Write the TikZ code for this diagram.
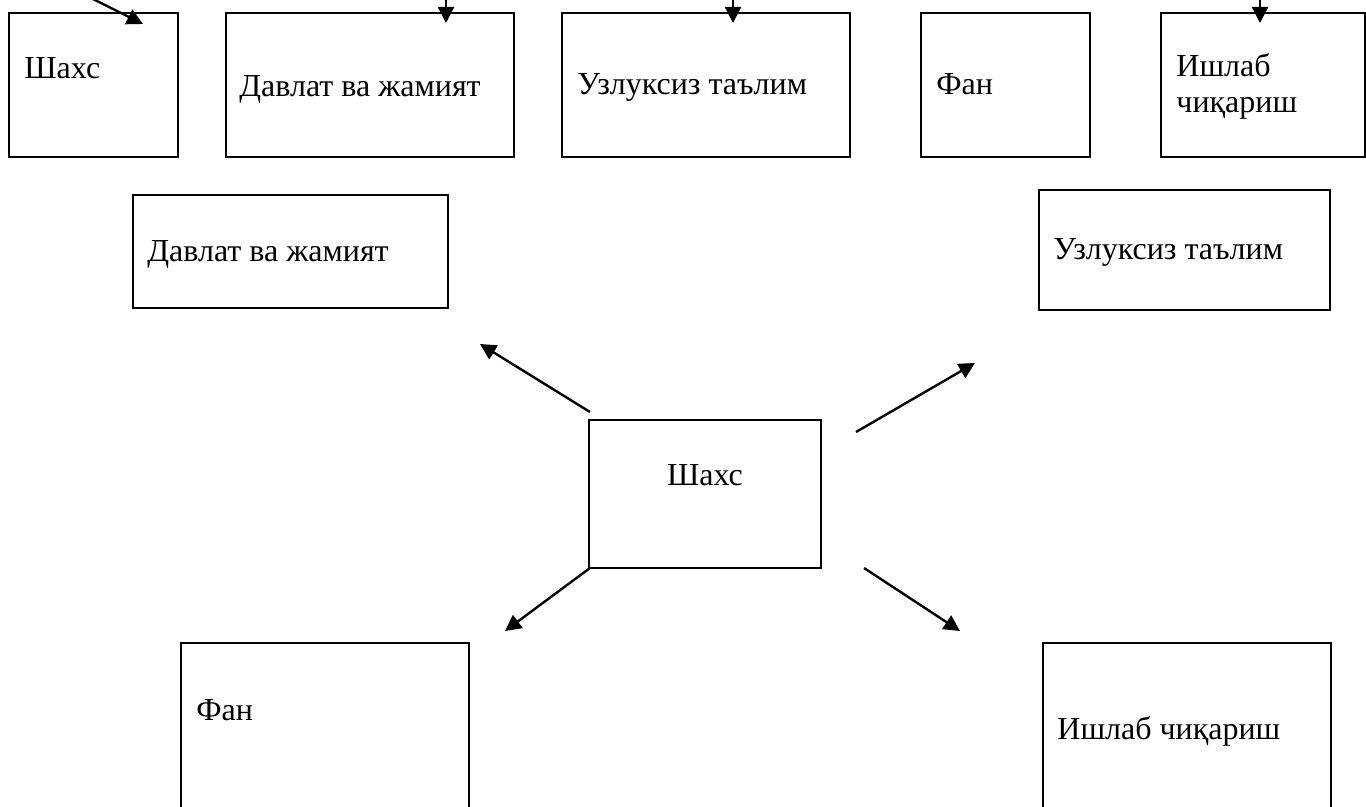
\documentclass[tikz,border=0pt]{standalone}
\usepackage{fontspec}
\setmainfont{Liberation Serif}
\usetikzlibrary{arrows.meta}
\tikzset{
  box/.style={draw, line width=1.1pt, inner sep=0pt},
  txt/.style={anchor=base west, inner sep=0pt, align=left, font=\fontsize{16}{18}\selectfont},
  arr/.style={-{Triangle[length=8pt,width=8pt]}, line width=1.2pt}
}
\begin{document}
\begin{tikzpicture}[x=0.5pt,y=-0.5pt]
  \clip (0,0) rectangle (1366,807);
  % top row
  \node[box, minimum width=84.5pt, minimum height=72pt] (t_shaxs)   at (93.5,85)  {};
  \node[box, minimum width=144pt,  minimum height=72pt] (t_davlat)  at (370,85)   {};
  \node[box, minimum width=144pt,  minimum height=72pt] (t_talim)   at (706,85)   {};
  \node[box, minimum width=84.5pt, minimum height=72pt] (t_fan)     at (1005.5,85) {};
  \node[box, minimum width=102pt,  minimum height=72pt] (t_ishlab)  at (1263,85)  {};
  \node[txt] (l_t_shaxs)  at (24,79)   {Шахс};
  \node[txt] (l_t_davlat) at (239,97)  {Давлат ва жамият};
  \node[txt] (l_t_talim)  at (577,95)  {Узлуксиз таълим};
  \node[txt] (l_t_fan)    at (936,95)  {Фан};
  \node[txt] (l_t_ishlab) at (1176,113) {Ишлаб\\чиқариш};
  % scheme
  \node[box, minimum width=157.5pt, minimum height=56.5pt] (davlat) at (290.5,251.5) {};
  \node[box, minimum width=145.5pt, minimum height=60pt]   (talim)  at (1184.5,250)  {};
  \node[box, minimum width=116pt,   minimum height=74pt]   (shaxs)  at (705,494)     {};
  \node[box, minimum width=144pt,   minimum height=128.5pt] (fan)   at (325,771.5)   {};
  \node[box, minimum width=144pt,   minimum height=128.5pt] (ishlab) at (1187,771.5) {};
  \node[txt] (l_davlat) at (147,262)  {Давлат ва жамият};
  \node[txt] (l_talim)  at (1053,260) {Узлуксиз таълим};
  \node[txt, anchor=base] (l_shaxs) at (705,486) {Шахс};
  \node[txt] (l_fan)    at (196,720)  {Фан};
  \node[txt] (l_ishlab) at (1057,739) {Ишлаб чиқариш};
  % arrow ends
  \coordinate (s1) at (47,-24);   \coordinate (e1) at (143,24);
  \coordinate (s2) at (446,-20);  \coordinate (e2) at (446,23);
  \coordinate (s3) at (733,-20);  \coordinate (e3) at (733,23);
  \coordinate (s4) at (1260,-20); \coordinate (e4) at (1260,23);
  \coordinate (ul_s) at (590,412); \coordinate (ul_e) at (480,344);
  \coordinate (ur_s) at (856,432); \coordinate (ur_e) at (975,363);
  \coordinate (ll_s) at (590,568); \coordinate (ll_e) at (505,631);
  \coordinate (lr_s) at (864,568); \coordinate (lr_e) at (960,631);
  \path[arr]
    (s1) edge (e1)
    (s2) edge (e2)
    (s3) edge (e3)
    (s4) edge (e4)
    (ul_s) edge (ul_e)
    (ur_s) edge (ur_e)
    (ll_s) edge (ll_e)
    (lr_s) edge (lr_e);
\end{tikzpicture}
\end{document}
